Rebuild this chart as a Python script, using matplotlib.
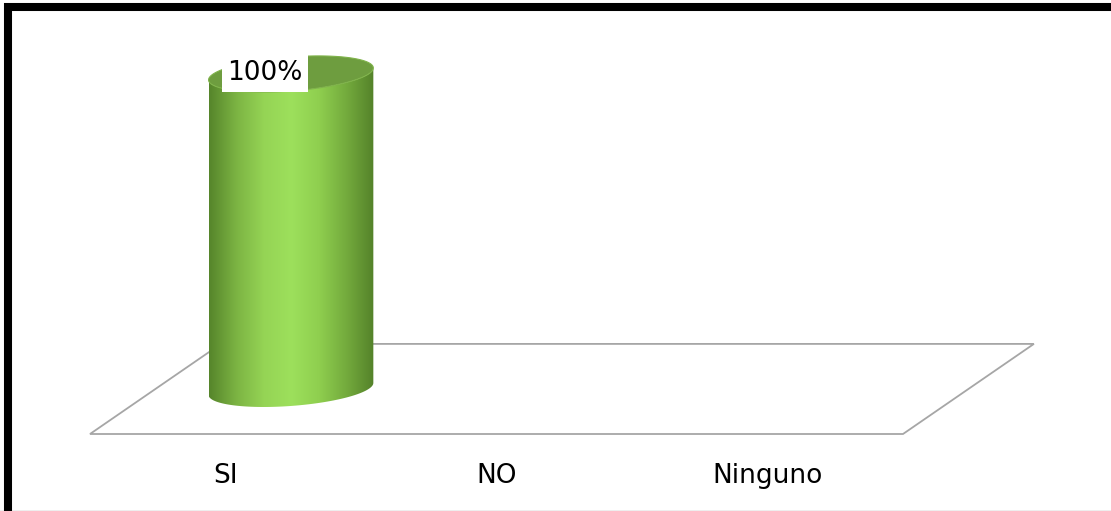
import numpy as np
import matplotlib
matplotlib.use("Agg")
import matplotlib.pyplot as plt
from matplotlib.patches import Polygon, Rectangle
from matplotlib.colors import LinearSegmentedColormap

# data
categories = ['SI', 'NO', 'Ninguno']
values = [100, 0, 0]   # percent

# 3d look (data units)
depth_x = 0.483
depth_y = 28.6
radius = 0.304
ell_b = 5.4
shear = 1.9
ymax = 120

body_cmap = LinearSegmentedColormap.from_list(
    'cyl', ['#56852b', '#7cb443', '#95d455', '#9de05c', '#8fcf4f', '#74ab3d', '#54822a'])

fig = plt.figure(figsize=(11.11, 5.11), dpi=100)
ax = fig.add_axes([90 / 1111, 77 / 511, 813 / 1111, 3.15 * ymax / 511])
for sp in ax.spines.values():
    sp.set_visible(False)
ax.set_yticks([])
ax.set_xticks(range(len(categories)))
ax.set_xticklabels(categories, fontsize=19, family='DejaVu Sans')
ax.tick_params(axis='x', length=0, pad=21)
ax.patch.set_alpha(0)

# floor
floor = Polygon([(-0.5, 0), (2.5, 0), (2.5 + depth_x, depth_y), (-0.5 + depth_x, depth_y)],
                closed=True, facecolor='white', edgecolor='#a6a6a6', lw=1.3, clip_on=False, zorder=1)
ax.add_patch(floor)


def ell(cx, cy, t):
    return cx + radius * np.cos(t), cy + ell_b * np.sin(t) + shear * np.cos(t)


for i, v in enumerate(values):
    if v <= 0:
        continue
    cx = i + depth_x / 2
    y0 = depth_y / 2
    y1 = y0 + v
    tb = np.linspace(np.pi, 2 * np.pi, 80)
    bx, by = ell(cx, y0, tb)
    tx, ty = ell(cx, y1, tb[::-1])
    verts = np.column_stack([np.r_[bx, tx], np.r_[by, ty]])
    body = Polygon(verts, closed=True, facecolor='none', edgecolor='none', clip_on=False, zorder=3)
    ax.add_patch(body)
    grad = np.linspace(0, 1, 256).reshape(1, -1)
    im = ax.imshow(grad, cmap=body_cmap, aspect='auto', zorder=3,
                   extent=[cx - radius, cx + radius, y0 - ell_b - 3, y1 + 3],
                   interpolation='bilinear')
    im.set_clip_path(body)
    # top face
    tt = np.linspace(0, 2 * np.pi, 160)
    ex, ey = ell(cx, y1, tt)
    top = Polygon(np.column_stack([ex, ey]), closed=True, facecolor='#6e9d3f',
                  edgecolor='#7fb34a', lw=0.8, clip_on=False, zorder=4)
    ax.add_patch(top)
    # label
    ax.annotate(f'{v}%', xy=(cx, y1), xytext=(-19, 0.5), textcoords='offset points',
                ha='center', va='center', fontsize=19, family='DejaVu Sans', zorder=6,
                bbox=dict(boxstyle='square,pad=0.2', fc='white', ec='none'),
                annotation_clip=False)

ax.set_xlim(-0.5, 2.5)
ax.set_ylim(0, ymax)

# frame
fig.patches.append(Rectangle((7.5 / 1111, -0.05), 1.1, 1.05 - 7.5 / 511, transform=fig.transFigure,
                             fill=False, edgecolor='black', lw=5.8, zorder=10))
fig.patches.append(Rectangle((0, 0), 1, 1.5 / 511, transform=fig.transFigure,
                             facecolor='#eeeeee', edgecolor='none', zorder=9))

fig.savefig('out.png', dpi=100)
